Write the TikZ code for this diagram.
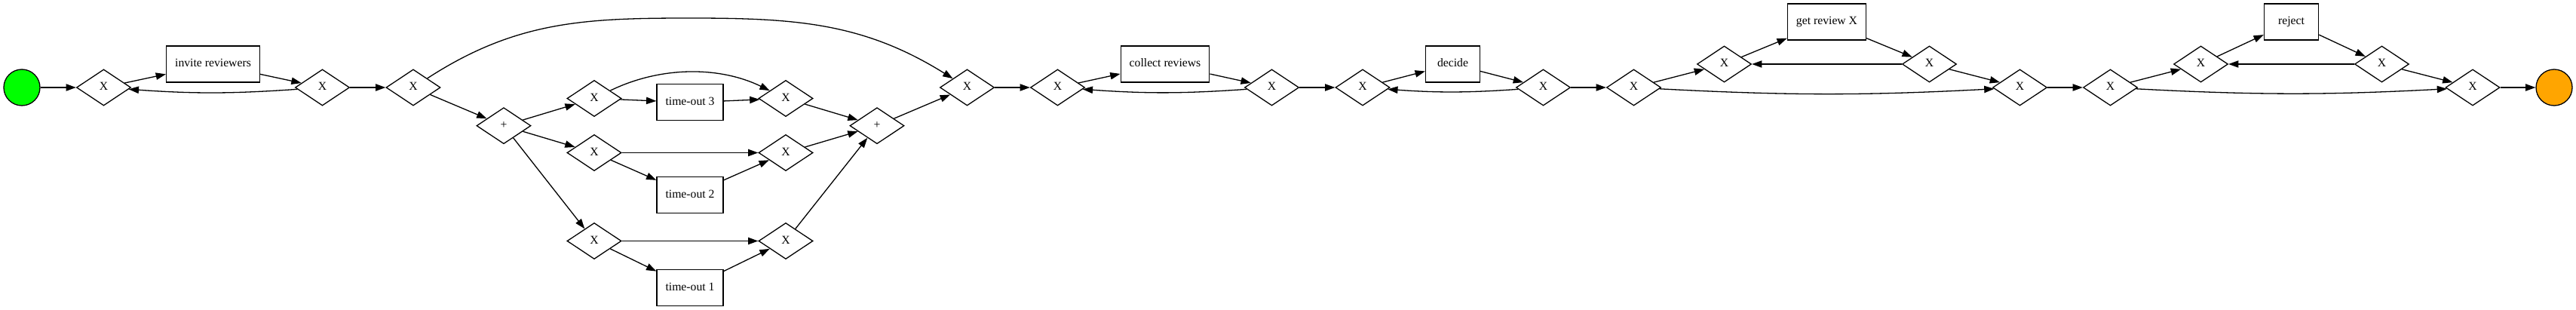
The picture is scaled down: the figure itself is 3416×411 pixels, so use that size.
\documentclass[tikz,border=0pt]{standalone}
\usepackage{fontspec}
\setmainfont{Liberation Serif}
\usepackage{xcolor}
\definecolor{endorange}{HTML}{FFA500}
\usetikzlibrary{shapes.geometric,arrows.meta}

\begin{document}
\begin{tikzpicture}[x=1pt,y=1pt]
	\tikzstyle{gate} = [diamond, draw=black, line width=1.3pt, minimum width=72pt, minimum height=48pt, inner sep=0pt, text height=11pt, text depth=3.5pt, font=\fontsize{15.7pt}{18pt}\selectfont]
	\tikzstyle{task} = [rectangle, draw=black, line width=1.3pt, minimum width=72pt, minimum height=48pt, inner xsep=11.5pt, inner ysep=0pt, text height=11pt, text depth=3.5pt, font=\fontsize{15.7pt}{18pt}\selectfont]
	\tikzstyle{event} = [circle, draw=black, line width=1.3pt, minimum size=48pt, inner sep=0pt]
	\tikzstyle{flow} = [draw=black, line width=1.3pt, -{Triangle[length=13.3pt,width=9.3pt]}]
	\useasboundingbox (0,0) rectangle (3416,-411);

		\node[event, fill=green] (s) at (29,-116) {};
		\node[gate] (g1) at (137.5,-116) {X};
		\node[task] (inv) at (282.5,-85) {invite reviewers};
		\node[gate] (g2) at (427.5,-116) {X};
		\node[gate] (g3) at (548,-116) {X};
		\node[gate] (p1) at (668,-166.7) {+};
		\node[gate] (xa) at (788,-130.5) {X};
		\node[task] (t3) at (915,-135.8) {time-out 3};
		\node[gate] (xb) at (788,-202.5) {X};
		\node[task] (t2) at (915,-258.5) {time-out 2};
		\node[gate] (xc) at (788,-319.5) {X};
		\node[task] (t1) at (915,-381.3) {time-out 1};
		\node[gate] (ya) at (1042,-130.5) {X};
		\node[gate] (yb) at (1042,-202.5) {X};
		\node[gate] (yc) at (1042,-319.5) {X};
		\node[gate] (p2) at (1163,-166.7) {+};
		\node[gate] (g4) at (1282.5,-116) {X};
		\node[gate] (g5) at (1402.5,-116) {X};
		\node[task] (col) at (1545,-85) {collect reviews};
		\node[gate] (g6) at (1686.5,-116) {X};
		\node[gate] (g7) at (1807,-116) {X};
		\node[task] (dec) at (1926.5,-85) {decide};
		\node[gate] (g8) at (2046.5,-116) {X};
		\node[gate] (g9) at (2166.5,-116) {X};
		\node[gate] (g10) at (2286.5,-85) {X};
		\node[task] (rev) at (2422.5,-29) {get review X};
		\node[gate] (g11) at (2558.5,-85) {X};
		\node[gate] (g12) at (2678.5,-116) {X};
		\node[gate] (g13) at (2798.5,-116) {X};
		\node[gate] (g14) at (2918.5,-85) {X};
		\node[task] (rej) at (3038.5,-29) {reject};
		\node[gate] (g15) at (3158.5,-85) {X};
		\node[gate] (g16) at (3279,-116) {X};
		\node[event, fill=endorange] (e) at (3387,-116) {};
		\coordinate (arc) at (915,-24);

		\path[flow]
			(s) edge (g1)
			(g1) edge (inv)
			(inv) edge (g2)
			(g2) edge [bend left=4] (g1)
			(g2) edge (g3)
			(g3) edge (p1)
			(p1) edge (xa)
			(p1) edge (xb)
			(p1) edge (xc)
			(xa) edge (t3)
			(xa) edge [bend left=26, looseness=0.9] (ya)
			(t3) edge (ya)
			(xb) edge (yb)
			(xb) edge (t2)
			(t2) edge (yb)
			(xc) edge (yc)
			(xc) edge (t1)
			(t1) edge (yc)
			(ya) edge (p2)
			(yb) edge (p2)
			(yc) edge (p2)
			(p2) edge (g4)
			(g4) edge (g5)
			(g5) edge (col)
			(col) edge (g6)
			(g6) edge [bend left=4] (g5)
			(g6) edge (g7)
			(g7) edge (dec)
			(dec) edge (g8)
			(g8) edge [bend left=4] (g7)
			(g8) edge (g9)
			(g9) edge (g10)
			(g10) edge (rev)
			(rev) edge (g11)
			(g11) edge (g10)
			(g11) edge (g12)
			(g9) edge [bend right=3] (g12)
			(g12) edge (g13)
			(g13) edge (g14)
			(g14) edge (rej)
			(rej) edge (g15)
			(g15) edge (g14)
			(g15) edge (g16)
			(g13) edge [bend right=3] (g16)
			(g16) edge (e);
		\draw[flow] (g3) to[out=33,in=180] (arc) to[out=0,in=148] (g4);
\end{tikzpicture}
\end{document}
